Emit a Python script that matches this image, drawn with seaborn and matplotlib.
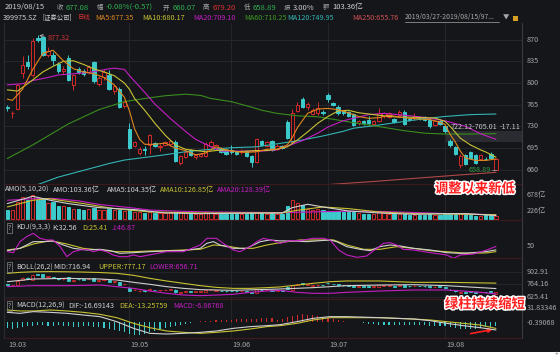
import numpy as np
import pandas as pd
import matplotlib
matplotlib.use("Agg")
import matplotlib.pyplot as plt
import seaborn as sns
from matplotlib.patches import Rectangle
from matplotlib.lines import Line2D
import matplotlib.patheffects as pe

# ---------------- data ----------------
idx = list(range(-1, 97))
open_ = [792, 762, 751, 758, 816, 834, 813, 873, 874, 846, 846,
         831, 819, 840, 797, 823, 820, 818, 834, 798, 809,
         813, 787, 791, 763, 725, 699, 687, 694, 700, 703,
         696, 700, 701, 705, 671, 681, 692, 680, 682, 682,
         698, 695, 695, 692, 692, 690, 688, 690, 682, 673,
         706, 699, 706, 694, 698, 737, 705, 755, 774, 761,
         750, 751, 753, 781, 768, 762, 755, 753, 750, 735,
         739, 740, 734, 739, 746, 745, 742, 748, 754, 742,
         743, 743, 745, 741, 733, 738, 730, 706, 696, 668,
         683, 689, 684, 678, 678, 686, 660.07]
high = [865, 765, 755, 799, 843, 846, 873, 877.32, 876, 858, 850,
        834, 828, 846, 815, 826, 823, 829, 836, 811, 822,
        821, 799, 793, 773, 736, 707, 696, 699, 718, 705,
        701, 707, 708, 708, 684, 691, 694, 685, 687, 704,
        708, 702, 697, 694, 700, 692, 693, 692, 684, 711,
        708, 707, 708, 701, 700, 740, 758, 769, 777, 769,
        760, 769, 757, 784, 770, 764, 757, 755, 752, 740,
        741, 746, 741, 760, 753, 754, 744, 757, 756, 744,
        751, 745, 747, 743, 740, 740, 732, 709, 698, 686,
        685, 691, 686, 686, 680, 688, 679.20]
low = [788, 755, 744, 756, 808, 822, 810, 866, 844, 842, 829,
       816, 815, 803, 789, 814, 812, 815, 800, 795, 805,
       789, 783, 759, 760, 693, 696, 684, 684, 685, 697,
       690, 698, 699, 672, 668, 679, 682, 678, 680, 680,
       696, 693, 687, 684, 686, 684, 686, 680, 664, 671,
       698, 697, 690, 692, 693, 709, 703, 753, 760, 757,
       748, 749, 748, 770, 763, 749, 748, 745, 730, 733,
       733, 733, 732, 737, 744, 743, 735, 746, 732, 738,
       741, 740, 739, 728, 731, 732, 720, 697, 683, 663,
       667, 677, 669, 676, 675, 677, 658.89]
close = [861, 760, 752, 797, 829, 828, 868, 869, 846, 852, 837,
         819, 823, 805, 813, 818, 815, 826, 803, 808, 818,
         791, 796, 761, 770, 695, 705, 694, 692, 716, 699,
         698, 705, 706, 674, 682, 689, 684, 683, 685, 702,
         705, 700, 689, 686, 688, 686, 691, 682, 673, 709,
         700, 705, 692, 699, 695, 711, 752, 765, 762, 766,
         756, 759, 751, 774, 765, 751, 751, 747, 732, 738,
         735, 735, 739, 752, 751, 751, 737, 754, 734, 740,
         747, 742, 741, 730, 738, 734, 722.12, 700, 685, 682,
         669, 679, 671, 684, 677, 679, 677.08]
amo = [300, 272, 253, 489, 631, 536, 678, 555, 612, 461, 489,
       366, 366, 347, 300, 300, 272, 300, 328, 272, 253,
       300, 272, 272, 234, 300, 215, 200, 185, 210, 175,
       165, 170, 165, 215, 195, 170, 160, 150, 155, 200,
       185, 160, 150, 145, 140, 140, 135, 145, 175, 215,
       170, 160, 165, 150, 150, 366, 555, 461, 395, 300,
       272, 300, 253, 234, 206, 234, 206, 196, 206, 177,
       158, 158, 158, 196, 168, 158, 140, 135, 150, 120,
       125, 120, 125, 140, 130, 120, 135, 160, 150, 175,
       140, 122, 100, 98, 112, 108.4, 103.36]
macd_hist = [-10, -12, -14, -12, -10, -8, -8, -6, -6, -8, -8,
             -6, -8, -8, -10, -10, -8, -8, -10, -10, -12,
             -14, -16, -20, -22, -26, -28, -28, -26, -22, -18,
             -14, -12, -10, -8, -6, -4, -2, 2, 3, 4,
             4, 5, 6, 6, 6, 7, 8, 8, 8, 8,
             9, 10, 10, 6, 8, 12, 14, 16, 18, 16,
             16, 14, 12, 10, 8, 6, 4, 2, 1, 0.5,
             -1, -3, -4, -5, -5, -5, -5, -5, -6, -6,
             -6, -6, -6, -7, -7, -8, -8, -10, -12, -14,
             -15, -15, -14, -12, -10, -9, -6.86768]

ma5_x = [0, 1, 3, 5, 7, 9, 11, 13, 15, 17, 19, 21, 22, 23, 24, 25, 26, 27, 29, 31,
         33, 35, 37, 39, 41, 43, 45, 47, 49, 51, 53, 55, 56, 57, 59, 61, 63, 65, 67, 69,
         71, 73, 75, 77, 79, 81, 83, 85, 86, 87, 88, 89, 90, 92, 94, 96]
ma5_y = [774, 772, 790, 822, 848, 853, 836, 823, 818, 815, 809, 797, 787, 777, 755, 726, 709, 701, 701, 703,
         695, 691, 684, 687, 697, 692, 689, 688, 689, 693, 693, 700, 712, 728, 751, 758, 759, 757, 752, 746,
         743, 744, 748, 745, 743, 742, 741, 737, 733, 717, 705, 690, 679, 675, 675, 677.35]
ma10_x = [0, 2, 5, 7, 9, 11, 13, 15, 17, 19, 21, 23, 24, 25, 27, 29, 31, 33, 35, 37,
          39, 41, 43, 45, 47, 49, 51, 53, 55, 57, 59, 61, 63, 65, 67, 69, 71, 73, 75, 77,
          80, 84, 86, 87, 89, 91, 93, 94, 96]
ma10_y = [789, 787, 805, 818, 827, 835, 836, 830, 823, 818, 812, 800, 790, 775, 756, 735, 716, 700, 693, 691,
          689, 691, 692, 689, 690, 691, 691, 693, 697, 708, 721, 735, 746, 755, 756, 752, 750, 748, 746, 745,
          744.6, 743.5, 738, 730, 711, 700, 692, 688.6, 680.17]
ma20_x = [0, 3, 5, 8, 10, 13, 16, 18, 20, 21, 23, 24, 25, 27, 29, 32, 35, 37, 40, 42,
          45, 48, 50, 53, 55, 58, 61, 63, 66, 69, 71, 74, 78, 82, 86, 90, 93, 96]
ma20_y = [797, 799, 804, 809, 813, 815, 817, 820, 823, 824, 822, 812, 803, 785, 766, 743, 722, 709, 697, 690,
          690, 690, 690, 692, 698, 707, 719, 729, 739, 745, 749, 751, 748, 744.6, 739, 730, 718, 709.10]
ma60_x = [0, 5, 12, 18, 23, 27, 31, 35, 38, 40, 44, 48, 50, 53, 57, 61, 64, 68, 72, 75, 78, 82, 86, 90, 96]
ma60_y = [678, 700, 734, 757, 770, 775, 779.5, 782, 780, 775, 770, 761, 756, 751, 747, 745.5, 741.5, 736, 731,
          727, 723, 719, 717.6, 717.6, 718.25]
ma120_x = [5, 10, 15, 20, 23, 30, 35, 40, 44, 49, 54, 58, 62, 66, 68, 72, 75, 78, 82, 86, 91, 96]
ma120_y = [633, 648, 659, 670, 675.6, 683, 689, 693, 695.5, 697, 703, 708, 714.5, 722, 727, 731, 734.5, 738,
           742.4, 746, 749, 749.95]
ma250_x = [60, 64, 72, 80, 88, 96]
ma250_y = [633.5, 636.5, 641, 646, 651, 655.76]

ama5_x = [0, 5, 9, 12, 18, 25, 31, 38, 47, 54, 56, 59, 62, 67, 73, 80, 86, 90, 96]
ama5_y = [442, 650, 520, 442, 328, 272, 177, 158, 170, 177, 328, 423, 347, 234, 177, 139, 158, 158, 104.35]
ama10_x = [0, 5, 8, 15, 21, 28, 38, 47, 54, 57, 62, 67, 73, 80, 86, 96]
ama10_y = [347, 536, 584, 442, 300, 206, 177, 177, 177, 253, 347, 300, 206, 158, 149, 126.85]
ama20_x = [0, 5, 9, 14, 18, 24, 28, 34, 40, 47, 54, 60, 66, 73, 80, 86, 96]
ama20_y = [536, 580, 590, 520, 420, 330, 260, 225, 206, 195, 187, 206, 225, 220, 190, 160, 128.39]

k_x = [0, 2.5, 5.1, 7.1, 9, 11, 13, 15.6, 18.2, 20.2, 22.1, 24.8, 28, 31.3, 34.6, 37.9, 39.2, 40.5, 41.8,
       44.4, 47, 49.7, 51.6, 53.6, 56.2, 58.8, 61.5, 63.4, 64.7, 66.7, 69.3, 71.3, 73.2, 75.2, 77.2, 79.8,
       83.1, 86.3, 89, 91.6, 94.2, 96]
k_y = [29.3, 39, 66.8, 66.8, 69.6, 52.9, 39, 32.1, 34.9, 29.3, 18.2, 21, 25.1, 27.9, 29.3, 39, 59.9, 66.8, 52.9,
       39, 39, 66.8, 73.8, 70, 69.6, 66.8, 71, 73.8, 66.8, 46, 34.9, 29.3, 46, 52.9, 48.8, 39,
       32.1, 21, 18.2, 21, 26, 32.56]
d_x = [0, 2.5, 5.1, 8.4, 11.7, 14.9, 18.2, 21.5, 24.8, 28, 31.3, 34.6, 37.9, 40.5, 43.1, 45.7, 48.3, 51,
       53.6, 57.5, 61.5, 64.1, 66.7, 70, 73.2, 76.5, 79.8, 83.1, 86.3, 90.3, 94.2, 96]
d_y = [32.1, 39, 57.1, 71, 57.1, 39, 32.1, 25.1, 25.1, 27.9, 29.3, 32.1, 34.9, 52.9, 48.8, 39, 39, 52.9,
       62.6, 73.8, 73.8, 73.8, 52.9, 34.9, 34.9, 46, 39, 29.3, 25.1, 18.2, 20, 25.41]
j_x = [0, 1.2, 2.5, 3.8, 5.1, 6.4, 7.7, 9, 10.4, 11.7, 13, 14.3, 15.6, 16.9, 18.2, 19.5, 20.8, 22.1, 23.5,
       24.8, 26.1, 31.3, 34.6, 37.9, 39.2, 41.1, 42.4, 44.4, 45.7, 47.7, 49, 50.3, 52.3, 53.6, 55.6, 57.5,
       60.1, 62.1, 63.4, 65.1, 66.7, 68.7, 70.6, 72.6, 73.9, 75.2, 76.5, 77.8, 79.8, 83.1, 86.3, 87.7,
       89, 91.6, 94.2, 96]
j_y = [25.1, 21, 66.8, 87.6, 101.5, 80.7, 73.8, 73.8, 46, 4.3, 25.1, 32.1, 34.9, 25.1, 32.1, 25.1, 11.3, 4.3,
       4.3, 11.3, 4.3, 25.1, 25.1, 52.9, 80.7, 80.7, 59.9, 32.1, 25.1, 46, 66.8, 80.7, 71, 59.9, 71, 71,
       80.7, 80.7, 73.8, 32.1, 11.3, 1.5, 7.1, 39, 59.9, 62.6, 52.9, 34.9, 32.1, 21, 11.3, -2.6,
       11.3, 15.4, 32.1, 46.87]

up_x = [0, 2.5, 5.1, 8.4, 11.7, 14.9, 18.2, 21.5, 24.8, 28, 31.3, 34.6, 37.9, 41.1, 44.4, 47.7, 51, 53.6,
        60.1, 63.4, 66.7, 73.2, 79.8, 86.3, 96]
up_y = [886, 897, 903, 905, 903, 900, 895, 886, 864, 830, 801, 775, 749, 730, 719, 719, 727, 735,
        775, 793, 801, 801, 786, 786, 777.17]
mid_x = [0, 5.1, 11.7, 18.2, 21.5, 24.8, 28, 31.3, 34.6, 37.9, 44.4, 53.6, 60.1, 66.7, 73.2, 79.8, 86.3, 96]
mid_y = [793, 823, 830, 823, 812, 786, 764, 738, 719, 705, 697, 712, 727, 749, 756, 760, 749, 716.94]
low_x = [0, 5.1, 11.7, 18.2, 21.5, 24.8, 28, 31.3, 34.6, 37.9, 41.1, 44.4, 47.7, 51, 53.6, 56.9, 60.1, 63.4,
         66.7, 73.2, 79.8, 86.3, 89.6, 92.9, 96]
low_y = [738, 749, 749, 756, 738, 719, 690, 664, 645, 638, 645, 653, 675, 690, 697, 675, 664, 664,
         675, 690, 701, 701, 690, 675, 656.71]

m_x = [0, 2.5, 5.1, 8.4, 11.7, 14.9, 18.2, 21.5, 24.8, 28, 31.3, 34.6, 37.9, 41.1, 44.4, 47.7, 51, 53.6,
       56.9, 60.1, 63.4, 66.7, 73.2, 79.8, 83.1, 86.3, 89.6, 92.9, 96]
dif_y = [22.8, 20.5, 24.3, 22.8, 20.5, 16.8, 13.1, 1.9, -13.1, -24.3, -25.8, -24.3, -22, -19, -13.1, -9.3,
         -7.1, -4.9, 1.9, 9.3, 13.1, 13.1, 10.8, 7.8, 4.1, -1.9, -7.1, -11.6, -16.69]
dea_y = [28, 25.8, 25.8, 28, 25.8, 22.8, 18.3, 10.8, -1.9, -11.6, -19, -22, -24.3, -22, -19, -14.6, -9.3,
         -7.1, -1.9, 5.6, 10.8, 10.8, 10.8, 7.8, 5.6, 1.9, -1.9, -5.6, -13.26]

price_ticks = [870, 835, 800, 765, 730, 695, 660]
month_idx = [0, 24, 44, 63, 86]
month_lbl = ["19.03", "19.05", "19.06", "19.07", "19.08"]

# ---------------- styling ----------------
sns.set_style("dark")
plt.rcParams['font.family'] = ['Noto Sans CJK SC', 'DejaVu Sans']

BG = '#15161a'
GRID = '#25272c'
SEP = '#3c1a1c'
RED = '#d22a2a'
CYAN = '#3ccaca'
ORANGE = '#e0861e'
YELLOW = '#c8c232'
MAG = '#c41ec4'
GREEN = '#3a8c1e'
TEAL = '#33b4b4'
MA250C = '#b04848'
WHITE = '#d0d0d0'
GRAYT = '#a8a8a8'
NUMG = '#2fb050'
FS = 5.2      # latin text size
FH = 5.5      # header numbers
FC = 4.6      # CJK text size

W, H = 560, 362
fig = plt.figure(figsize=(W / 100, H / 100), dpi=100)
fig.patch.set_facecolor(BG)

XL = ((4 - 7.3) / 5.09, (522 - 7.3) / 5.09)


def px_ax(y0, y1, x0=4, x1=522):
    ax = fig.add_axes([x0 / W, 1 - y1 / H, (x1 - x0) / W, (y1 - y0) / H])
    ax.set_facecolor(BG)
    for s in ax.spines.values():
        s.set_visible(False)
    return ax


def finish(ax, ylim):
    ax.set_xlim(XL)
    ax.set_ylim(ylim)
    ax.set_xticks([])
    ax.set_yticks([])
    ax.set_xlabel('')
    ax.set_ylabel('')
    ax.grid(False)
    for m in month_idx[1:]:
        ax.axvline(m, color=GRID, lw=0.7, zorder=0)


def T(x, y, s, c, size=FS, ha='left', va='center', **kw):
    return fig.text(x / W, 1 - y / H, s, color=c, fontsize=size, ha=ha, va=va, **kw)


def L(ax, xs, ys, c, lw=0.8):
    sns.lineplot(x=xs, y=ys, ax=ax, color=c, linewidth=lw, legend=False, sort=False, zorder=5)


def candles(ax, w=0.66, lw=0.7, minh=0.8):
    for x, o, h, l, c in zip(idx, open_, high, low, close):
        up = c >= o
        col = RED if up else CYAN
        ax.vlines(x, l, h, color=col, lw=lw, zorder=3)
        ax.bar(x, max(abs(c - o), minh), width=w, bottom=min(o, c),
               facecolor=BG if up else CYAN, edgecolor=col, linewidth=lw, zorder=4)


def rlabel(ax, v, s):
    ax.text(1 + 5 / 518, v, s, transform=ax.get_yaxis_transform(), color=GRAYT,
            fontsize=FS, ha='left', va='center', clip_on=False)


# ---------------- main price panel ----------------
axm = px_ax(23, 184)
for p in price_ticks:
    axm.axhline(p, color=GRID, lw=0.7, zorder=0)
axm.add_patch(Rectangle((86.2, 705.01), 20, 722.12 - 705.01, facecolor='#2a2c31', edgecolor='none', zorder=1))
candles(axm)
L(axm, ma250_x, ma250_y, MA250C)
L(axm, ma120_x, ma120_y, TEAL)
L(axm, ma60_x, ma60_y, GREEN)
L(axm, ma20_x, ma20_y, MAG)
L(axm, ma10_x, ma10_y, YELLOW)
L(axm, ma5_x, ma5_y, ORANGE)
finish(axm, (636.9, 897))
for p in price_ticks:
    rlabel(axm, p, str(p))
axm.annotate('877.32', xy=(6, 877.32), xytext=(7.9, 872), color='#d03434', fontsize=FS,
             va='center', ha='left',
             arrowprops=dict(arrowstyle='->', color='#b0b0b0', lw=0.6, shrinkA=0, shrinkB=1))
axm.text(95.1, 658.89, '658.89', color='#2e9a3e', fontsize=FS, ha='right', va='center', zorder=6)
axm.plot([95.2, 96], [658.89, 658.89], color='#9a9a9a', lw=0.6, zorder=6)
axm.text(87.0, 729, '722.12-705.01', color='#c8c8c8', fontsize=FS, ha='left', va='center', zorder=6)
axm.text(96.8, 729, '-17.11', color='#c8c8c8', fontsize=FS, ha='left', va='center', zorder=6)

# ---------------- AMO panel ----------------
axa = px_ax(184, 219.5)
for x, v, o, c in zip(idx, amo, open_, close):
    up = c >= o
    col = RED if up else CYAN
    axa.bar(x, v, width=0.66, bottom=0, facecolor=BG if up else CYAN, edgecolor=col, linewidth=0.7, zorder=3)
L(axa, ama20_x, ama20_y, MAG)
L(axa, ama10_x, ama10_y, YELLOW)
L(axa, ama5_x, ama5_y, WHITE)
finish(axa, (-8.5, 998))
rlabel(axa, 678, '678亿')
rlabel(axa, 226, '226亿')

# ---------------- KDJ panel ----------------
axk = px_ax(219.5, 258.4)
L(axk, d_x, d_y, YELLOW)
L(axk, k_x, k_y, WHITE)
L(axk, j_x, j_y, MAG)
finish(axk, (-2.9, 159))
rlabel(axk, 50, '50')

# ---------------- BOLL panel ----------------
axb = px_ax(258.4, 299)
for v in [902.91, 764.16, 625.41]:
    axb.axhline(v, color=GRID, lw=0.6, zorder=0)
L(axb, up_x, up_y, YELLOW)
L(axb, mid_x, mid_y, WHITE)
L(axb, low_x, low_y, MAG)
candles(axb, w=0.6, lw=0.6, minh=6)
finish(axb, (601, 1051.7))
rlabel(axb, 902.91, '902.91')
rlabel(axb, 764.16, '764.16')
rlabel(axb, 625.41, '625.41')

# ---------------- MACD panel ----------------
axc = px_ax(299, 338)
for x, v in zip(idx, macd_hist):
    axc.bar(x, v, width=0.22, bottom=0, color=RED if v >= 0 else CYAN, linewidth=0, zorder=3)
L(axc, m_x, dea_y, YELLOW)
L(axc, m_x, dif_y, WHITE)
finish(axc, (-34.7, 52.6))
rlabel(axc, 31.83346, '31.83346')
rlabel(axc, -0.39068, '-0.39068')

# ---------------- frame lines ----------------
for y in [184, 219.5, 258.4, 299, 338]:
    fig.add_artist(Line2D([4 / W, 522 / W], [1 - y / H, 1 - y / H], color=SEP, lw=0.8))
fig.add_artist(Line2D([522 / W, 522 / W], [1 - 23 / H, 1 - 338 / H], color='#3a3b40', lw=0.8))
fig.add_artist(Line2D([4 / W, 4 / W], [1 - 23 / H, 1 - 338 / H], color='#2c2d32', lw=0.8))

for m, s in zip(month_idx, month_lbl):
    xp = 7.3 + 5.09 * m
    T(xp + 1, 345, s, GRAYT)

fig.add_artist(Rectangle((0, 0), 1, 10 / H, transform=fig.transFigure, facecolor='white', edgecolor='none'))
T(557, 354, '+', '#808080', size=5, ha='center')

# ---------------- header ----------------
r1 = 7.5
T(5, r1, '2019/08/15', WHITE, size=FH)
T(57, r1, '收', GRAYT, size=FC); T(66, r1, '677.08', NUMG, size=FH)
T(97, r1, '幅', GRAYT, size=FC); T(106, r1, '-0.08%(-0.57)', NUMG, size=FH)
T(163, r1, '开', GRAYT, size=FC); T(173, r1, '660.07', NUMG, size=FH)
T(203, r1, '高', GRAYT, size=FC); T(213, r1, '679.20', '#d83030', size=FH)
T(244, r1, '低', GRAYT, size=FC); T(253, r1, '658.89', NUMG, size=FH)
T(284, r1, '振', GRAYT, size=FC); T(293, r1, '3.00%', WHITE, size=FH)
T(323, r1, '额', GRAYT, size=FC); T(332, r1, '103.36亿', WHITE, size=FH)

r2 = 17.5
T(3, r2, '399975.SZ', WHITE)
T(42, r2, '[证券公司]', WHITE, size=FC)
T(78, r2, '日线', '#d83030', size=FC)
T(95, r2, 'MA5:677.35', ORANGE)
T(142, r2, 'MA10:680.17', YELLOW)
T(193, r2, 'MA20:709.10', MAG)
T(244, r2, 'MA60:718.25', '#3c9a22')
T(287, r2, 'MA120:749.95', TEAL)
T(352, r2, 'MA250:655.76', '#d05050')
T(405, r2, '2019/03/27-2019/08/15/97...', GRAYT, size=4.9)
fig.add_artist(Line2D([405 / W, 499 / W], [1 - 22 / H, 1 - 22 / H], color=GRAYT, lw=0.5))
T(503, r2, '▼', GRAYT, size=4.6)
fig.add_artist(Rectangle((513 / W, 1 - 21 / H), 5 / W, 5 / H, transform=fig.transFigure,
                         facecolor='#d8a020', edgecolor='none'))

# ---------------- panel titles ----------------
ya = 190
T(5, ya, 'AMO(5,10,20)', WHITE)
T(53, ya, 'AMO:103.36亿', WHITE)
T(107, ya, 'AMA5:104.35亿', WHITE)
T(160, ya, 'AMA10:126.85亿', YELLOW)
T(217, ya, 'AMA20:128.39亿', MAG)

box = dict(boxstyle='square,pad=0.15', facecolor='none', edgecolor='#8a8a8a', lw=0.5)
yk = 227.7
T(8, yk, '?', GRAYT, size=4.8, bbox=box)
T(16, yk, 'KDJ(9,3,3)', WHITE)
T(52, yk, 'K:32.56', WHITE)
T(82, yk, 'D:25.41', YELLOW)
T(112, yk, 'J:46.87', MAG)

yb = 267.3
T(8, yb, '?', GRAYT, size=4.8, bbox=box)
T(16, yb, 'BOLL(26,2)', WHITE)
T(53, yb, 'MID:716.94', WHITE)
T(98, yb, 'UPPER:777.17', YELLOW)
T(149, yb, 'LOWER:656.71', MAG)

yc = 305.7
T(8, yc, '?', GRAYT, size=4.8, bbox=box)
T(16, yc, 'MACD(12,26,9)', WHITE)
T(68, yc, 'DIF:-16.69143', WHITE)
T(119, yc, 'DEA:-13.25759', YELLOW)
T(173, yc, 'MACD:-6.86768', MAG)

# ---------------- annotations ----------------
stroke = [pe.withStroke(linewidth=2.2, foreground='white')]
T(475, 188.5, '调整以来新低', '#ff1e1e', size=9.6, ha='center', fontweight='bold', path_effects=stroke)
T(485, 304, '绿柱持续缩短', '#ff1e1e', size=9.6, ha='center', fontweight='bold', path_effects=stroke)
axc.annotate('', xy=(95.9, -14.5), xytext=(90.5, -26),
             arrowprops=dict(arrowstyle='-|>', color='#ff2020', lw=1.2, mutation_scale=6), annotation_clip=False)

fig.savefig('out.png', dpi=100, facecolor=fig.get_facecolor())
